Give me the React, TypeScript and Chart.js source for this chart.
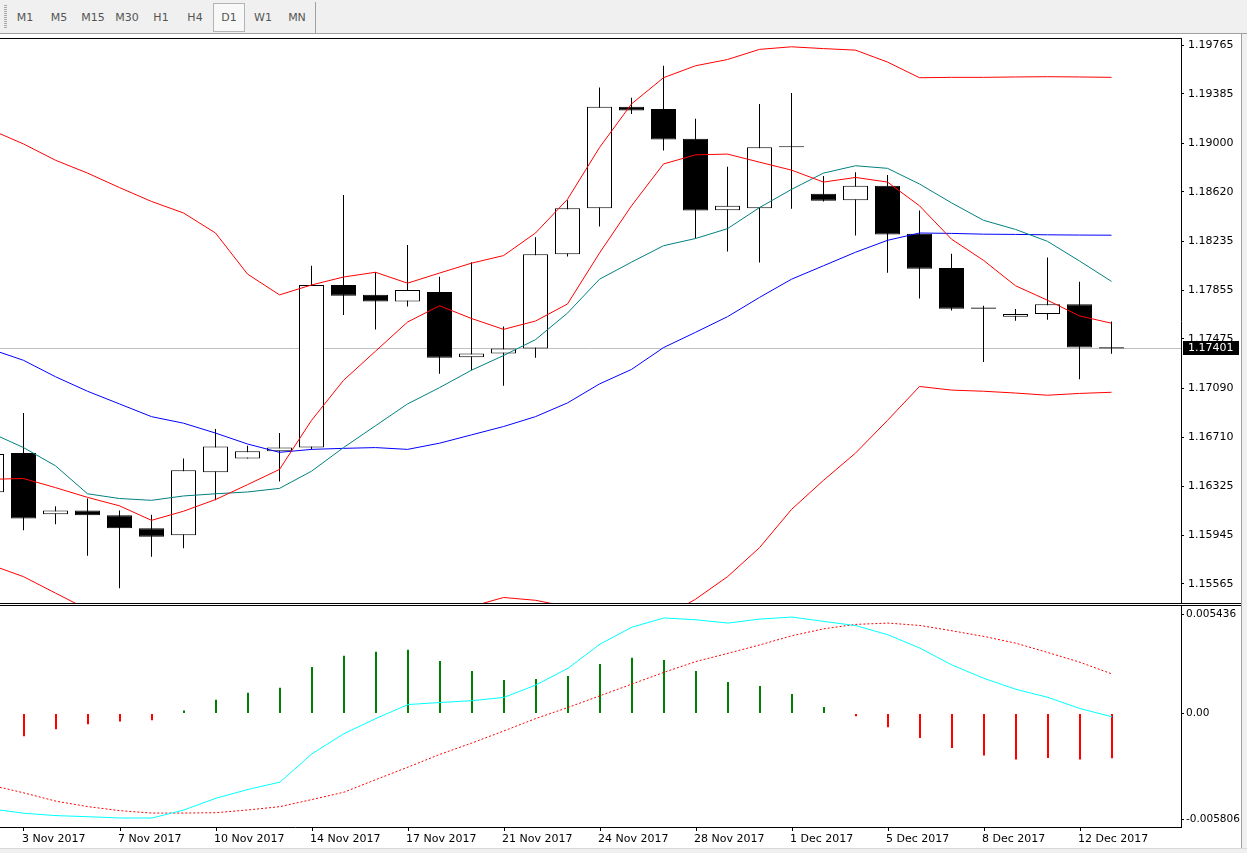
import React, { useEffect, useRef } from 'react';
import { Chart, registerables } from 'chart.js';

Chart.register(...registerables);

// ---------------- data ----------------
const DATES = [
  '2 Nov 2017', '3 Nov 2017', '5 Nov 2017', '6 Nov 2017', '7 Nov 2017', '8 Nov 2017', '9 Nov 2017',
  '10 Nov 2017', '12 Nov 2017', '13 Nov 2017', '14 Nov 2017', '15 Nov 2017', '16 Nov 2017', '17 Nov 2017',
  '19 Nov 2017', '20 Nov 2017', '21 Nov 2017', '22 Nov 2017', '23 Nov 2017', '24 Nov 2017', '26 Nov 2017',
  '27 Nov 2017', '28 Nov 2017', '29 Nov 2017', '30 Nov 2017', '1 Dec 2017', '3 Dec 2017', '4 Dec 2017',
  '5 Dec 2017', '6 Dec 2017', '7 Dec 2017', '8 Dec 2017', '10 Dec 2017', '11 Dec 2017', '12 Dec 2017',
  '13 Dec 2017',
];

const OPEN = [
  1.16279, 1.16585, 1.16109, 1.16137, 1.16101, 1.15999, 1.15945, 1.16435, 1.16543, 1.16599, 1.16628, 1.17895,
  1.17818, 1.17767, 1.17841, 1.17331, 1.17362, 1.17401, 1.18135, 1.18493, 1.19283, 1.19266, 1.19034, 1.18478,
  1.18493, 1.18970, 1.18606, 1.18555, 1.18668, 1.18294, 1.18028, 1.17720, 1.17648, 1.17668, 1.17744, 1.17410,
];
const HIGH = [
  1.16650, 1.16897, 1.16171, 1.16231, 1.16137, 1.16104, 1.16543, 1.16772, 1.16642, 1.16741, 1.18045, 1.18597,
  1.17994, 1.18206, 1.17960, 1.18073, 1.17571, 1.18266, 1.18555, 1.19433, 1.19354, 1.19603, 1.19190, 1.18816,
  1.19306, 1.19391, 1.18745, 1.18773, 1.18753, 1.18476, 1.18138, 1.17733, 1.17708, 1.18110, 1.17920, 1.17611,
];
const LOW = [
  1.16200, 1.15984, 1.16030, 1.15786, 1.15531, 1.15778, 1.15843, 1.16217, 1.16543, 1.16364, 1.16614, 1.17662,
  1.17549, 1.17727, 1.17203, 1.17231, 1.17110, 1.17328, 1.18116, 1.18351, 1.19227, 1.18943, 1.18257, 1.18155,
  1.18070, 1.18490, 1.18546, 1.18280, 1.17991, 1.17790, 1.17696, 1.17294, 1.17617, 1.17625, 1.17161, 1.17359,
];
const CLOSE = [
  1.16577, 1.16075, 1.16137, 1.16101, 1.15999, 1.15933, 1.16452, 1.16636, 1.16599, 1.16628, 1.17895, 1.17812,
  1.17767, 1.17855, 1.17328, 1.17362, 1.17401, 1.18135, 1.18493, 1.19283, 1.19255, 1.19028, 1.18476, 1.18512,
  1.18969, 1.18968, 1.18552, 1.18668, 1.18288, 1.18022, 1.17710, 1.17710, 1.17668, 1.17744, 1.17407, 1.17401,
];

const BB_UPPER = [
  1.19102, 1.18994, 1.18867, 1.18767, 1.18654, 1.18546, 1.18456, 1.18300, 1.17980, 1.17818, 1.17895, 1.17957,
  1.17994, 1.17909, 1.17988, 1.18065, 1.18124, 1.18300, 1.18563, 1.18966, 1.19306, 1.19510, 1.19603, 1.19652,
  1.19731, 1.19751, 1.19737, 1.19725, 1.19632, 1.19510, 1.19513, 1.19513, 1.19516, 1.19518, 1.19516, 1.19513,
];
const BB_MIDDLE = [
  1.17393, 1.17308, 1.17180, 1.17067, 1.16968, 1.16869, 1.16818, 1.16741, 1.16656, 1.16591, 1.16614, 1.16622,
  1.16628, 1.16614, 1.16662, 1.16727, 1.16792, 1.16869, 1.16976, 1.17124, 1.17237, 1.17407, 1.17526, 1.17648,
  1.17798, 1.17940, 1.18045, 1.18150, 1.18243, 1.18300, 1.18297, 1.18291, 1.18289, 1.18286, 1.18284, 1.18283,
];
const BB_LOWER = [
  1.15712, 1.15622, 1.15494, 1.15367, 1.15282, 1.15192, 1.15180, 1.15182, 1.15332, 1.15364, 1.15333, 1.15287,
  1.15262, 1.15319, 1.15336, 1.15389, 1.15460, 1.15438, 1.15389, 1.15282, 1.15168, 1.15304, 1.15446, 1.15622,
  1.15848, 1.16146, 1.16373, 1.16585, 1.16840, 1.17104, 1.17076, 1.17067, 1.17053, 1.17036, 1.17050, 1.17059,
];
const MA_FAST = [
  1.16381, 1.16387, 1.16316, 1.16240, 1.16174, 1.16061, 1.16132, 1.16223, 1.16339, 1.16458, 1.16840, 1.17152,
  1.17379, 1.17606, 1.17733, 1.17634, 1.17549, 1.17614, 1.17747, 1.18144, 1.18512, 1.18838, 1.18909, 1.18915,
  1.18852, 1.18790, 1.18697, 1.18733, 1.18697, 1.18512, 1.18252, 1.18087, 1.17889, 1.17776, 1.17654, 1.17597,
];
const MA_SLOW = [
  1.16741, 1.16628, 1.16486, 1.16268, 1.16231, 1.16217, 1.16251, 1.16268, 1.16282, 1.16310, 1.16444, 1.16628,
  1.16798, 1.16968, 1.17095, 1.17231, 1.17345, 1.17469, 1.17676, 1.17940, 1.18073, 1.18201, 1.18257, 1.18334,
  1.18498, 1.18640, 1.18767, 1.18824, 1.18804, 1.18682, 1.18535, 1.18399, 1.18328, 1.18235, 1.18082, 1.17923,
];

const MACD_HIST = [
  -0.00150, -0.00124, -0.00086, -0.00059, -0.00044, -0.00037, 0.00016, 0.00075, 0.00113, 0.00141, 0.00254, 0.00315,
  0.00337, 0.00348, 0.00287, 0.00232, 0.00183, 0.00188, 0.00205, 0.00271, 0.00304, 0.00293, 0.00232, 0.00172,
  0.00150, 0.00106, 0.00035, -0.00015, -0.00075, -0.00134, -0.00188, -0.00229, -0.00251, -0.00243, -0.00251, -0.00245,
];
const MACD_MAIN = [
  -0.00522, -0.00545, -0.00558, -0.00564, -0.00571, -0.00571, -0.00527, -0.00463, -0.00415, -0.00375, -0.00220, -0.00110,
  -0.00027, 0.00049, 0.00060, 0.00070, 0.00088, 0.00156, 0.00247, 0.00379, 0.00472, 0.00522, 0.00512, 0.00494,
  0.00516, 0.00527, 0.00503, 0.00480, 0.00430, 0.00357, 0.00265, 0.00192, 0.00132, 0.00088, 0.00027, -0.00018,
];
const MACD_SIGNAL = [
  -0.00393, -0.00434, -0.00479, -0.00509, -0.00531, -0.00544, -0.00544, -0.00542, -0.00527, -0.00509, -0.00470, -0.00430,
  -0.00361, -0.00293, -0.00223, -0.00161, -0.00095, -0.00027, 0.00033, 0.00097, 0.00161, 0.00225, 0.00284, 0.00329,
  0.00375, 0.00425, 0.00463, 0.00487, 0.00494, 0.00481, 0.00452, 0.00421, 0.00384, 0.00333, 0.00280, 0.00216,
];

const PRICE_TICKS = [
  1.15565, 1.15945, 1.16325, 1.16710, 1.17090, 1.17475, 1.17855, 1.18235, 1.18620, 1.19000, 1.19385, 1.19765,
];
const MACD_TICKS = [-0.005806, 0, 0.005436];
const MACD_TICK_LABELS = ['-0.005806', '0.00', '0.005436'];
const DATE_TICK_INDICES = [1, 4, 7, 10, 13, 16, 19, 22, 25, 28, 31, 34];
const BID = 1.17401;
const TIMEFRAMES = ['M1', 'M5', 'M15', 'M30', 'H1', 'H4', 'D1', 'W1', 'MN'];
const ACTIVE_TF = 'D1';

// ---------------- view ranges ----------------
const X_MIN = 0.265625;
const X_MAX = 37.171875;
const MX_MIN = 0.25;
const MX_MAX = 37.15625;
const Y_MIN = 1.154169;
const Y_MAX = 1.198118;
const M_MIN = -0.006202;
const M_MAX = 0.005874;

const FONT = { family: 'DejaVu Sans', size: 11 };
const MACD_FONT = { family: 'DejaVu Sans', size: 10.5 };
const pts = (arr: number[]) => arr.map((v, i) => ({ x: i, y: v }));

const lineDs = (label: string, data: number[], color: string, extra: any = {}) => ({
  type: 'line',
  label,
  data: pts(data),
  borderColor: color,
  borderWidth: 1,
  pointRadius: 0,
  pointHoverRadius: 0,
  tension: 0,
  fill: false,
  order: 0,
  ...extra,
});

const bidPlugin = {
  id: 'bidLine',
  beforeDatasetsDraw(chart: any) {
    const { ctx, chartArea, scales } = chart;
    const py = Math.round(scales.y.getPixelForValue(BID)) + 0.5;
    ctx.save();
    ctx.strokeStyle = '#c0c0c0';
    ctx.lineWidth = 1;
    ctx.beginPath();
    ctx.moveTo(chartArea.left, py);
    ctx.lineTo(chartArea.right, py);
    ctx.stroke();
    ctx.restore();
  },
  afterDraw(chart: any) {
    const { ctx, chartArea, scales } = chart;
    const py = Math.round(scales.y.getPixelForValue(BID));
    ctx.save();
    ctx.fillStyle = '#000';
    ctx.fillRect(chartArea.right + 2, py - 7, 56, 14);
    ctx.fillStyle = '#fff';
    ctx.font = '11px "DejaVu Sans"';
    ctx.textBaseline = 'middle';
    ctx.textAlign = 'left';
    ctx.fillText(BID.toFixed(5), chartArea.right + 7, py);
    ctx.restore();
  },
};

function PriceChart() {
  const ref = useRef<HTMLCanvasElement | null>(null);
  useEffect(() => {
    if (!ref.current) return;
    const chart = new Chart(ref.current, {
      data: {
        datasets: [
          lineDs('MA fast', MA_FAST, '#ff0000'),
          lineDs('MA slow', MA_SLOW, '#008080'),
          lineDs('BB middle', BB_MIDDLE, '#0000ff'),
          lineDs('BB upper', BB_UPPER, '#ff0000'),
          lineDs('BB lower', BB_LOWER, '#ff0000'),
          {
            type: 'bar',
            label: 'body',
            data: OPEN.map((o, i) => ({ x: i, y: [o, CLOSE[i]] })),
            backgroundColor: OPEN.map((o, i) => (CLOSE[i] > o ? '#ffffff' : '#000000')),
            borderColor: '#000000',
            borderWidth: 1,
            borderSkipped: false,
            barThickness: 25,
            minBarLength: 1,
            grouped: false,
            inflateAmount: 0,
            order: 1,
          },
          {
            type: 'bar',
            label: 'wick',
            data: LOW.map((l, i) => ({ x: i, y: [l, HIGH[i]] })),
            backgroundColor: '#000000',
            borderWidth: 0,
            barThickness: 1,
            grouped: false,
            inflateAmount: 0,
            order: 2,
          },
        ],
      } as any,
      options: {
        animation: false,
        responsive: false,
        maintainAspectRatio: false,
        events: [],
        layout: { padding: 0 },
        plugins: { legend: { display: false }, tooltip: { enabled: false } },
        scales: {
          x: { type: 'linear', min: X_MIN, max: X_MAX, offset: false, display: false, grid: { offset: false } },
          y: {
            position: 'right',
            min: Y_MIN,
            max: Y_MAX,
            offset: false,
            afterBuildTicks: (s: any) => {
              s.ticks = PRICE_TICKS.map((v) => ({ value: v }));
            },
            afterFit: (s: any) => {
              s.width = 60;
              s.paddingTop = 0;
              s.paddingBottom = 0;
            },
            ticks: {
              color: '#000',
              font: FONT,
              padding: 4,
              autoSkip: false,
              callback: (v: any) => Number(v).toFixed(5),
            },
            grid: { display: true, drawOnChartArea: false, drawTicks: true, tickLength: 3, color: '#000' },
            border: { display: true, color: '#000', width: 1 },
          },
        },
      } as any,
      plugins: [bidPlugin],
    } as any);
    return () => chart.destroy();
  }, []);
  return (
    <canvas
      ref={ref}
      width={1241}
      height={564}
      style={{ position: 'absolute', left: 0, top: 39, width: 1241, height: 564 }}
    />
  );
}

function MacdChart() {
  const ref = useRef<HTMLCanvasElement | null>(null);
  useEffect(() => {
    if (!ref.current) return;
    const chart = new Chart(ref.current, {
      data: {
        datasets: [
          lineDs('MACD', MACD_MAIN, '#00ffff'),
          lineDs('Signal', MACD_SIGNAL, '#ff0000', { borderDash: [2, 2] }),
          {
            type: 'bar',
            label: 'Histogram',
            data: pts(MACD_HIST),
            backgroundColor: MACD_HIST.map((v) => (v >= 0 ? '#008000' : '#ff0000')),
            borderWidth: 0,
            barThickness: 2,
            grouped: false,
            inflateAmount: 0,
            order: 1,
          },
        ],
      } as any,
      options: {
        animation: false,
        responsive: false,
        maintainAspectRatio: false,
        events: [],
        layout: { padding: 0 },
        plugins: { legend: { display: false }, tooltip: { enabled: false } },
        scales: {
          x: {
            type: 'linear',
            min: MX_MIN,
            max: MX_MAX,
            offset: false,
            afterBuildTicks: (s: any) => {
              s.ticks = DATE_TICK_INDICES.map((v) => ({ value: v }));
            },
            afterFit: (s: any) => {
              s.height = 21;
              s.paddingLeft = 0;
              s.paddingRight = 0;
            },
            ticks: {
              align: 'start',
              autoSkip: false,
              maxRotation: 0,
              minRotation: 0,
              padding: 2,
              color: '#000',
              font: FONT,
              labelOffset: -2,
              callback: (v: any) => DATES[Math.round(Number(v))],
            },
            grid: { display: true, offset: false, drawOnChartArea: false, drawTicks: true, tickLength: 4, color: '#000' },
            border: { display: true, color: '#000', width: 1 },
          },
          y: {
            position: 'right',
            min: M_MIN,
            max: M_MAX,
            offset: false,
            afterBuildTicks: (s: any) => {
              s.ticks = MACD_TICKS.map((v) => ({ value: v }));
            },
            afterFit: (s: any) => {
              s.width = 60;
              s.paddingTop = 0;
              s.paddingBottom = 0;
            },
            ticks: {
              color: '#000',
              font: MACD_FONT,
              padding: 2,
              autoSkip: false,
              callback: (v: any) => {
                const idx = MACD_TICKS.findIndex((t) => Math.abs(t - Number(v)) < 1e-9);
                return idx >= 0 ? MACD_TICK_LABELS[idx] : '';
              },
            },
            grid: { display: true, drawOnChartArea: false, drawTicks: true, tickLength: 3, color: '#000' },
            border: { display: true, color: '#000', width: 1 },
          },
        },
      } as any,
    } as any);
    return () => chart.destroy();
  }, []);
  return (
    <canvas
      ref={ref}
      width={1241}
      height={242}
      style={{ position: 'absolute', left: 0, top: 606, width: 1241, height: 242 }}
    />
  );
}

function Toolbar() {
  return (
    <div
      style={{
        position: 'absolute',
        left: 0,
        top: 0,
        width: 1247,
        height: 33,
        background: '#f0f0f0',
        borderBottom: '1px solid #a0a0a0',
      }}
    >
      <div
        style={{
          position: 'absolute',
          left: 4,
          top: 5,
          width: 3,
          height: 24,
          backgroundImage: 'repeating-linear-gradient(to bottom, #a8a8a8 0px, #a8a8a8 1px, transparent 1px, transparent 2px)',
        }}
      />
      {TIMEFRAMES.map((t, i) => (
        <div
          key={t}
          style={{
            position: 'absolute',
            left: 9 + i * 34,
            top: 3,
            width: 32,
            height: 29,
            boxSizing: 'border-box',
            display: 'flex',
            alignItems: 'center',
            justifyContent: 'center',
            fontFamily: '"DejaVu Sans", sans-serif',
            fontSize: 11,
            color: '#555',
            border: t === ACTIVE_TF ? '1px solid #b4b4b4' : '1px solid transparent',
            background: t === ACTIVE_TF ? '#f8f8f8' : 'transparent',
          }}
        >
          {t}
        </div>
      ))}
      <div style={{ position: 'absolute', left: 315, top: 2, width: 1, height: 31, background: '#a0a0a0' }} />
    </div>
  );
}

export default function App() {
  return (
    <div
      style={{
        position: 'absolute',
        left: 0,
        top: 0,
        width: 1247,
        height: 853,
        background: '#fff',
        overflow: 'hidden',
      }}
    >
      <Toolbar />
      <div style={{ position: 'absolute', left: 0, top: 38, width: 1182, height: 1, background: '#000' }} />
      <PriceChart />
      <div style={{ position: 'absolute', left: 0, top: 603, width: 1241, height: 1, background: '#000' }} />
      <div style={{ position: 'absolute', left: 0, top: 605, width: 1241, height: 1, background: '#000' }} />
      <MacdChart />
      <div
        style={{
          position: 'absolute',
          left: 1241,
          top: 34,
          width: 6,
          height: 819,
          background: '#f0f0f0',
          borderLeft: '1px solid #a0a0a0',
        }}
      />
      <div
        style={{
          position: 'absolute',
          left: 0,
          top: 848,
          width: 1247,
          height: 5,
          background: '#f0f0f0',
          borderTop: '1px solid #d8d8d8',
        }}
      />
    </div>
  );
}
